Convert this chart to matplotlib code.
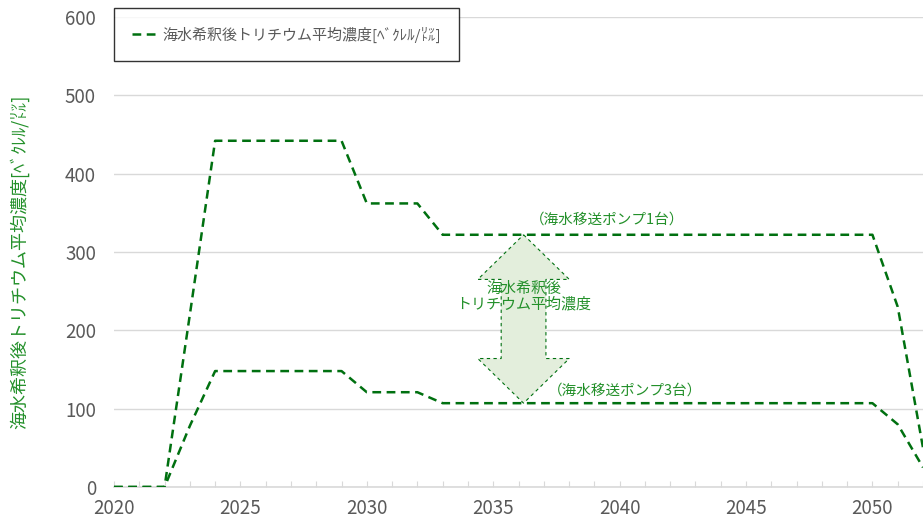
import matplotlib
matplotlib.use("Agg")
import matplotlib.pyplot as plt
from matplotlib.patches import Polygon
import numpy as np

plt.rcParams['font.family'] = ['Noto Sans CJK JP', 'DejaVu Sans']

# data
years = list(range(2020, 2053))
pump1 = [0, 0, 0, 220] + [442] * 6 + [362] * 3 + [322] * 18 + [230, 50]
pump3 = [0, 0, 0, 78] + [148] * 6 + [121] * 3 + [107] * 18 + [80, 25]

series_label = '海水希釈後トリチウム平均濃度[ﾍﾞｸﾚﾙ/㍑]'
ylabel = '海水希釈後トリチウム平均濃度[ﾍﾞｸﾚﾙ/㍑]'
note_pump1 = '（海水移送ポンプ1台）'
note_pump3 = '（海水移送ポンプ3台）'
note_arrow = '海水希釈後\nトリチウム平均濃度'
arrow_year = 2036.2

line_col = '#007010'
text_col = '#23902a'
grey = '#595959'

fig = plt.figure(figsize=(9.23, 5.24), dpi=100)
ax = fig.add_axes([114 / 923, 1 - 487 / 524, 1 - 114 / 923, 470 / 524])

ax.plot(years, pump1, color=line_col, lw=1.8, ls=(0, (3.5, 2.2)), label=series_label, zorder=3)
ax.plot(years, pump3, color=line_col, lw=1.8, ls=(0, (3.5, 2.2)), zorder=3)

ax.set_xlim(2020, 2020 + 809 / 25.43)
ax.set_ylim(0, 600)
ax.set_yticks(np.arange(0, 601, 100))
ax.set_xticks(years)
ax.set_xticklabels([str(y) if y % 5 == 0 else '' for y in years])
ax.grid(axis='y', color='#d9d9d9', lw=1)
ax.set_axisbelow(True)
for s in ['top', 'right', 'left']:
    ax.spines[s].set_visible(False)
ax.spines['bottom'].set_color('#d9d9d9')
ax.spines['bottom'].set_linewidth(1.2)
ax.tick_params(axis='y', length=0, pad=13, labelsize=13.5, labelcolor=grey)
ax.tick_params(axis='x', direction='in', length=4, color='#d9d9d9', pad=8,
               labelsize=13.5, labelcolor=grey)

# double arrow between the two cases
top = pump1[years.index(2036)]
bot = pump3[years.index(2036)]
hl = 57
HW = 1.81
hw = 0.885
xc = arrow_year
verts = [(xc, top), (xc + HW, top - hl), (xc + hw, top - hl), (xc + hw, bot + hl),
         (xc + HW, bot + hl), (xc, bot), (xc - HW, bot + hl), (xc - hw, bot + hl),
         (xc - hw, top - hl), (xc - HW, top - hl)]
ax.add_patch(Polygon(verts, closed=True, facecolor='#e3eedc', edgecolor=line_col,
                     lw=0.8, ls=(0, (3, 3)), zorder=2))
ax.text(xc, 243, note_arrow, ha='center', va='center', fontsize=10.8,
        color=text_col, linespacing=1.1, zorder=4)
ax.text(2039.5, 341, note_pump1, ha='center', va='center', fontsize=10.5, color=text_col)
ax.text(2040.2, 123, note_pump3, ha='center', va='center', fontsize=10.5, color=text_col)

leg = ax.legend(loc='upper left', bbox_to_anchor=(114 / 923, 1 - 8 / 524),
                bbox_transform=fig.transFigure, borderaxespad=0, fontsize=10.8,
                frameon=True, fancybox=False, edgecolor='black', handlelength=1.6,
                handletextpad=0.4, borderpad=1.22)
leg.get_frame().set_linewidth(1.0)
for t in leg.get_texts():
    t.set_color(grey)

fig.text(19 / 923, 1 - 262 / 524, ylabel, rotation=90, ha='center', va='center',
         fontsize=13, color=text_col)

fig.savefig('out.png', dpi=100)
